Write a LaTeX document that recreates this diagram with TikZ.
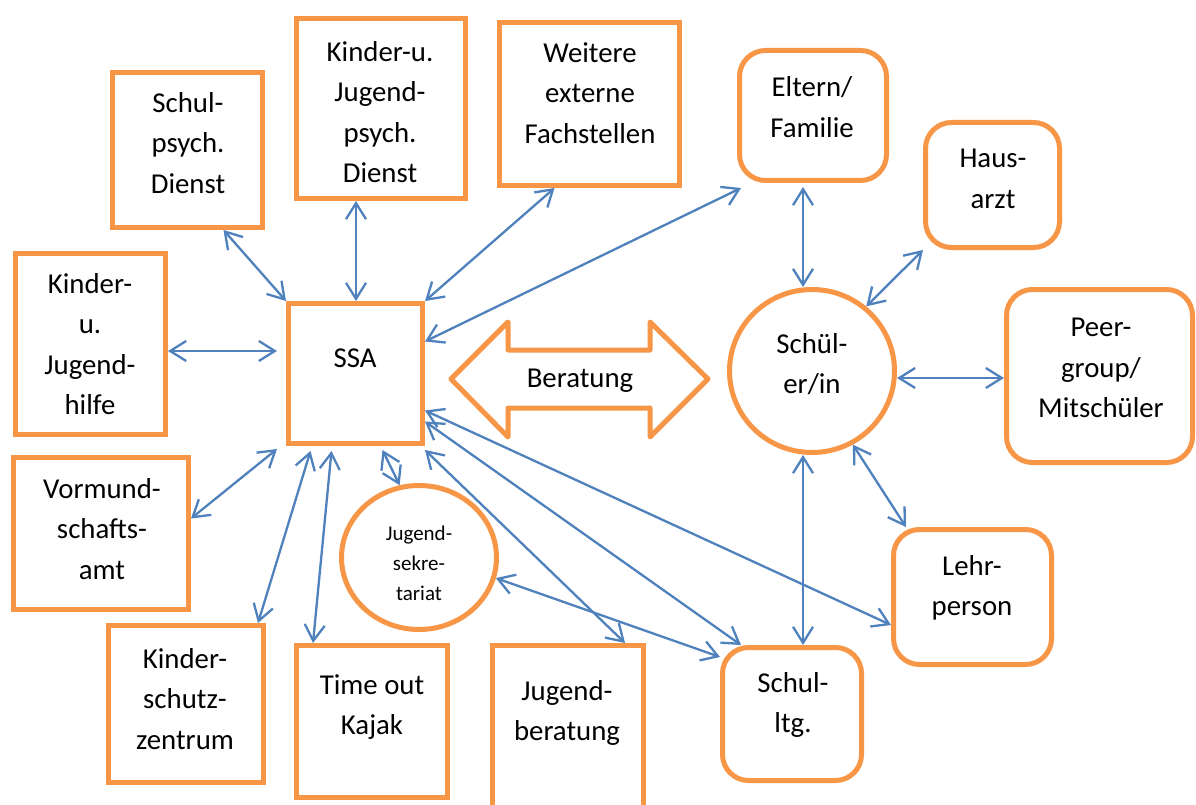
\documentclass[tikz,border=0pt]{standalone}
\usepackage{fontspec}
\setmainfont{Carlito}
\usetikzlibrary{arrows.meta,shapes.geometric,calc}
\definecolor{frame}{HTML}{F79646}
\definecolor{link}{HTML}{4F81BD}
\begin{document}
\begin{tikzpicture}[x=1pt,y=-1pt,
  every node/.style={inner sep=0pt},
  box/.style={draw=frame,line width=5pt,fill=white,rectangle},
  rbox/.style={box,rounded corners=26pt},
  oval/.style={draw=frame,line width=5pt,fill=white,ellipse},
  txt/.style={align=center,font=\fontsize{28.8pt}{40.5pt}\selectfont},
  smalltxt/.style={align=center,font=\fontsize{21pt}{30pt}\selectfont},
  conn/.style={draw=link,line width=2.3pt,
    {Straight Barb[length=16pt,width=20pt]}-{Straight Barb[length=16pt,width=20pt]}}]
\useasboundingbox (0,0) rectangle (1196,805);
\clip (0,0) rectangle (1196,805);
\fill[white] (0,0) rectangle (1196,805);

% outer services (left / top / bottom)
\node[box,minimum width=150pt,minimum height=155pt] (schulpsych) at (187.5,150) {};
\node[txt] (schulpsych-t) at (188,143) {Schul-\\psych.\\Dienst};
\node[box,minimum width=169pt,minimum height=180pt] (kjpd) at (381,108.5) {};
\node[txt] (kjpd-t) at (380,112) {Kinder-u.\\Jugend-\\psych.\\Dienst};
\node[box,minimum width=180pt,minimum height=163pt] (weitere) at (589.5,104) {};
\node[txt] (weitere-t) at (590,93) {Weitere\\externe\\Fachstellen};
\node[box,minimum width=150pt,minimum height=181pt] (kjh) at (90.5,344) {};
\node[txt] (kjh-t) at (90,344) {Kinder-\\u.\\Jugend-\\hilfe};
\node[box,minimum width=175pt,minimum height=152pt] (vormund) at (101,533.5) {};
\node[txt] (vormund-t) at (102,529) {Vormund-\\schafts-\\amt};
\node[box,minimum width=155pt,minimum height=157pt] (kinderschutz) at (186,704) {};
\node[txt] (kinderschutz-t) at (185,699) {Kinder-\\schutz-\\zentrum};
\node[box,minimum width=151pt,minimum height=152pt] (timeout) at (372,721.5) {};
\node[txt] (timeout-t) at (372,707) {Time out\\Kajak};
\node[box,minimum width=151pt,minimum height=192pt] (jugendberatung) at (568,741.5) {};
\node[txt] (jugendberatung-t) at (567,713) {Jugend-\\beratung};

% school social work and youth office
\node[box,minimum width=134pt,minimum height=140pt] (ssa) at (355.5,373.5) {};
\node[txt] (ssa-t) at (355,358) {SSA};
\node[oval,minimum width=155pt,minimum height=144pt] (jugendsek) at (419,557.5) {};
\node[smalltxt] (jugendsek-t) at (419,563) {Jugend-\\sekre-\\tariat};

% pupil and surrounding persons
\node[oval,minimum width=165pt,minimum height=163pt] (schueler) at (812,371) {};
\node[txt] (schueler-t) at (812,364) {Schül-\\er/in};
\node[rbox,minimum width=147pt,minimum height=130pt] (eltern) at (813,115.5) {};
\node[txt] (eltern-t) at (812,107) {Eltern/\\Familie};
\node[rbox,minimum width=134pt,minimum height=125pt] (haus) at (992.5,185) {};
\node[txt] (haus-t) at (993,179) {Haus-\\arzt};
\node[rbox,minimum width=186pt,minimum height=173pt] (peer) at (1099.5,376) {};
\node[txt] (peer-t) at (1101,368) {Peer-\\group/\\Mitschüler};
\node[rbox,minimum width=158pt,minimum height=135pt] (lehr) at (972.5,597) {};
\node[txt] (lehr-t) at (972,588) {Lehr-\\person};
\node[rbox,minimum width=139pt,minimum height=133pt] (schulltg) at (792,714) {};
\node[txt] (schulltg-t) at (793,705) {Schul-\\ltg.};

% counselling block arrow
\draw[frame,line width=5pt,line join=round,fill=white]
  (451,379) -- (508,322) -- (508,350) -- (650,350) -- (650,322) -- (708,379)
  -- (650,437) -- (650,408) -- (508,408) -- (508,437) -- cycle;
\node[txt] (beratung) at (580,381) {Beratung};

% connections of SSA
\draw[conn] ([xshift=36pt]schulpsych.south) -- (ssa.north west);
\draw[conn] ([xshift=-25pt]kjpd.south) -- ([xshift=-25pt]kjpd.south |- ssa.north);
\draw[conn] ([xshift=-35pt]weitere.south) -- (ssa.north east);
\draw[conn] ([yshift=32pt]ssa.east) -- ([xshift=4pt,yshift=-5pt]eltern.south west);
\draw[conn] ([yshift=-7pt]kjh.east) -- ([xshift=-9pt,yshift=-7pt]kjh.east -| ssa.west);
\draw[conn] ([yshift=15pt]vormund.east) -- ([xshift=-9pt,yshift=-3pt]ssa.south west);
\draw[conn] ([xshift=-8pt]kinderschutz.north east) -- ([xshift=-45pt,yshift=-5pt]ssa.south);
\draw[conn] ([xshift=-59pt]timeout.north) -- ([xshift=-24pt,yshift=-5pt]ssa.south);
\draw[conn] ([xshift=27pt,yshift=-4pt]ssa.south) -- (jugendsek.105);
\draw[conn] ([yshift=-4pt]ssa.south east) -- ([xshift=-21pt]jugendberatung.north east);
\draw[conn] ([yshift=-48pt]ssa.east) -- ([xshift=21pt]schulltg.north west);
\draw[conn] ([yshift=-37pt]ssa.east) -- ([yshift=-28pt]lehr.west);
\draw[conn] (jugendsek.-15) -- ([yshift=57pt]schulltg.west);

% connections of the pupil
\draw[conn] ([xshift=-10pt,yshift=-4pt]eltern.south) -- ([xshift=-10pt]eltern.south |- schueler.north);
\draw[conn] (schueler.50) -- (haus.south west);
\draw[conn] ([yshift=-7pt]schueler.east) -- ([yshift=-7pt]schueler.east -| peer.west);
\draw[conn] (schueler.-61) -- ([xshift=15pt]lehr.north west);
\draw[conn] ([xshift=-9pt]schueler.south) -- ([xshift=-9pt]schueler.south |- schulltg.north);
\end{tikzpicture}
\end{document}
